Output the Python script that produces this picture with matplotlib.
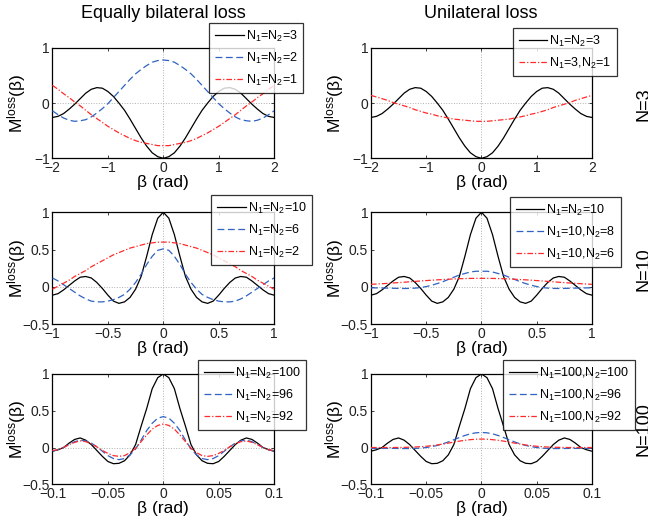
import numpy as np
import matplotlib
matplotlib.use("Agg")
import matplotlib.pyplot as plt

plt.rcParams['font.family'] = ['Liberation Sans', 'DejaVu Sans']
plt.rcParams['mathtext.fontset'] = 'custom'
plt.rcParams['mathtext.rm'] = 'Liberation Sans'
plt.rcParams['mathtext.it'] = 'Liberation Sans:italic'

# beta sampling grids (rad)
beta_n3 = np.linspace(-2, 2, 41)
beta_n10 = np.linspace(-1, 1, 41)
beta_n100 = np.linspace(-0.1, 0.1, 41)

# N=3 row
m_eq3 = [-0.26, -0.24, -0.19, -0.11, -0.02, 0.08, 0.18, 0.25, 0.28, 0.27, 0.21, 0.12, 0.00, -0.13, -0.29,
         -0.46, -0.63, -0.78, -0.90, -0.97, -1.00, -0.97, -0.90, -0.78, -0.63, -0.46, -0.29, -0.13, 0.00,
         0.12, 0.21, 0.27, 0.28, 0.25, 0.18, 0.08, -0.02, -0.11, -0.19, -0.24, -0.26]
m_eq2 = [-0.14, -0.21, -0.27, -0.31, -0.33, -0.32, -0.30, -0.25, -0.18, -0.10, -0.01, 0.10, 0.21, 0.32, 0.43,
         0.53, 0.61, 0.68, 0.74, 0.77, 0.78, 0.77, 0.74, 0.68, 0.61, 0.53, 0.43, 0.32, 0.21, 0.10, -0.01,
         -0.10, -0.18, -0.25, -0.30, -0.32, -0.33, -0.31, -0.27, -0.21, -0.14]
m_eq1 = [0.32, 0.25, 0.17, 0.10, 0.02, -0.05, -0.13, -0.21, -0.28, -0.35, -0.42, -0.48, -0.54, -0.59, -0.64,
         -0.68, -0.71, -0.73, -0.75, -0.77, -0.77, -0.77, -0.75, -0.73, -0.71, -0.68, -0.64, -0.59, -0.54,
         -0.48, -0.42, -0.35, -0.28, -0.21, -0.13, -0.05, 0.02, 0.10, 0.17, 0.25, 0.32]
m_uni3_1 = [0.14, 0.11, 0.08, 0.05, 0.01, -0.02, -0.05, -0.08, -0.12, -0.15, -0.18, -0.20, -0.23, -0.25, -0.27,
            -0.29, -0.30, -0.31, -0.32, -0.33, -0.33, -0.33, -0.32, -0.31, -0.30, -0.29, -0.27, -0.25, -0.23,
            -0.20, -0.18, -0.15, -0.12, -0.08, -0.05, -0.02, 0.01, 0.05, 0.08, 0.11, 0.14]

# N=10 row
m_eq10 = [-0.11, -0.09, -0.04, 0.02, 0.08, 0.13, 0.14, 0.12, 0.06, -0.02, -0.11, -0.19, -0.22, -0.20, -0.14,
          -0.03, 0.14, 0.41, 0.70, 0.92, 1.00, 0.92, 0.70, 0.41, 0.14, -0.03, -0.14, -0.20, -0.22, -0.19,
          -0.11, -0.02, 0.06, 0.12, 0.14, 0.13, 0.08, 0.02, -0.04, -0.09, -0.11]
m_eq6 = [0.12, 0.08, 0.03, -0.02, -0.07, -0.12, -0.16, -0.19, -0.20, -0.20, -0.19, -0.17, -0.14, -0.10, -0.03,
         0.06, 0.17, 0.30, 0.41, 0.49, 0.51, 0.49, 0.41, 0.30, 0.17, 0.06, -0.03, -0.10, -0.14, -0.17, -0.19,
         -0.20, -0.20, -0.19, -0.16, -0.12, -0.07, -0.02, 0.03, 0.08, 0.12]
m_eq2b = [-0.03, 0.01, 0.05, 0.09, 0.14, 0.18, 0.22, 0.27, 0.31, 0.35, 0.39, 0.43, 0.46, 0.49, 0.52, 0.54,
          0.56, 0.58, 0.59, 0.60, 0.60, 0.60, 0.59, 0.58, 0.56, 0.54, 0.52, 0.49, 0.46, 0.43, 0.39, 0.35,
          0.31, 0.27, 0.22, 0.18, 0.14, 0.09, 0.05, 0.01, -0.03]
m_uni10_8 = [-0.012, -0.013, -0.014, -0.016, -0.018, -0.020, -0.021, -0.020, -0.016, -0.008, 0.005, 0.023,
             0.045, 0.07, 0.10, 0.13, 0.16, 0.18, 0.20, 0.21, 0.21, 0.21, 0.20, 0.18, 0.16, 0.13, 0.10, 0.07,
             0.045, 0.023, 0.005, -0.008, -0.016, -0.020, -0.021, -0.020, -0.018, -0.016, -0.014, -0.013, -0.012]
m_uni10_6 = [0.035, 0.039, 0.043, 0.048, 0.053, 0.058, 0.063, 0.069, 0.074, 0.080, 0.085, 0.090, 0.095, 0.099,
             0.103, 0.107, 0.110, 0.112, 0.114, 0.115, 0.115, 0.115, 0.114, 0.112, 0.110, 0.107, 0.103, 0.099,
             0.095, 0.090, 0.085, 0.080, 0.074, 0.069, 0.063, 0.058, 0.053, 0.048, 0.043, 0.039, 0.035]

# N=100 row
m_eq100 = [-0.05, -0.03, 0.00, 0.06, 0.11, 0.13, 0.10, 0.04, -0.04, -0.12, -0.19, -0.22, -0.215, -0.18, -0.10,
           0.04, 0.29, 0.53, 0.80, 0.95, 1.00, 0.95, 0.80, 0.53, 0.29, 0.04, -0.10, -0.18, -0.215, -0.22,
           -0.19, -0.12, -0.04, 0.04, 0.10, 0.13, 0.11, 0.06, 0.00, -0.03, -0.05]
m_eq96 = [-0.05, -0.03, 0.00, 0.04, 0.08, 0.10, 0.09, 0.06, 0.01, -0.05, -0.11, -0.15, -0.165, -0.15, -0.10,
          -0.02, 0.10, 0.23, 0.33, 0.40, 0.42, 0.40, 0.33, 0.23, 0.10, -0.02, -0.10, -0.15, -0.165, -0.15,
          -0.11, -0.05, 0.01, 0.06, 0.09, 0.10, 0.08, 0.04, 0.00, -0.03, -0.05]
m_eq92 = [-0.04, -0.03, 0.00, 0.04, 0.07, 0.09, 0.08, 0.05, 0.01, -0.04, -0.08, -0.11, -0.12, -0.11, -0.07,
          -0.01, 0.08, 0.17, 0.25, 0.30, 0.32, 0.30, 0.25, 0.17, 0.08, -0.01, -0.07, -0.11, -0.12, -0.11,
          -0.08, -0.04, 0.01, 0.05, 0.08, 0.09, 0.07, 0.04, 0.00, -0.03, -0.04]
m_uni100_96 = [-0.012, -0.012, -0.012, -0.012, -0.012, -0.013, -0.014, -0.014, -0.012, -0.008, 0.000, 0.012,
               0.028, 0.050, 0.076, 0.106, 0.136, 0.164, 0.186, 0.200, 0.205, 0.200, 0.186, 0.164, 0.136,
               0.106, 0.076, 0.050, 0.028, 0.012, 0.000, -0.008, -0.012, -0.014, -0.014, -0.013, -0.012,
               -0.012, -0.012, -0.012, -0.012]
m_uni100_92 = [0.000, 0.000, 0.000, 0.000, 0.000, 0.001, 0.002, 0.004, 0.007, 0.011, 0.017, 0.025, 0.035,
               0.047, 0.060, 0.074, 0.087, 0.098, 0.107, 0.113, 0.115, 0.113, 0.107, 0.098, 0.087, 0.074,
               0.060, 0.047, 0.035, 0.025, 0.017, 0.011, 0.007, 0.004, 0.002, 0.001, 0.000, 0.000, 0.000,
               0.000, 0.000]

BLUE = '#2f62c2'
RED = '#ff2b2b'
styles = {'k': dict(color='k', ls='-'),
          'b': dict(color=BLUE, ls=(0, (5.5, 2.8))),
          'r': dict(color=RED, ls=(0, (4.5, 1.6, 1.0, 1.6)))}


def fmt(t):
    return ('%g' % t).replace('-', '\u2212')


def draw_panel(ax, beta, curves, labels, kinds, xticks, yticks, ylim, anchor, labx):
    ax.axhline(0, color='#b0b0b0', lw=0.7, ls=':', zorder=1)
    ax.axvline(0, color='#b0b0b0', lw=0.7, ls=':', zorder=1)
    for m, lab, k in zip(curves, labels, kinds):
        ax.plot(beta, m, lw=0.9, label=lab, zorder=3, **styles[k])
    ax.set_xlim(beta[0], beta[-1])
    ax.set_ylim(*ylim)
    ax.set_xticks(xticks)
    ax.set_yticks(yticks)
    ax.set_xticklabels([fmt(t) for t in xticks])
    ax.set_yticklabels([fmt(t) for t in yticks])
    ax.tick_params(direction='in', top=True, right=True, length=2.5, width=0.6,
                   labelsize=10, pad=2, colors='#222222')
    for s in ax.spines.values():
        s.set_linewidth(0.9)
    ax.set_xlabel('\u03b2 (rad)', fontsize=12.5, labelpad=0)
    ax.set_ylabel('M$^{\\mathrm{loss}}$(\u03b2)', fontsize=12.5)
    ax.yaxis.set_label_coords(labx, 0.5)
    leg = ax.legend(loc='upper right', bbox_to_anchor=anchor, bbox_transform=fig.transFigure,
                    fontsize=9, frameon=True, fancybox=False, borderaxespad=0,
                    handlelength=2.3, handletextpad=0.15, labelspacing=0.55, borderpad=0.45)
    leg.get_frame().set_edgecolor('k')
    leg.get_frame().set_linewidth(0.9)
    leg.set_zorder(10)


fig = plt.figure(figsize=(6.48, 5.26), dpi=100)
cols = [0.081, 0.5725]
widths = [0.342, 0.341]
rows = [(0.699, 0.210), (0.3835, 0.213), (0.0793, 0.2097)]
axes = [[fig.add_axes([cols[c], rows[r][0], widths[c], rows[r][1]]) for c in range(2)] for r in range(3)]
labx = [-0.112, -0.112]

draw_panel(axes[0][0], beta_n3, [m_eq3, m_eq2, m_eq1],
           ['N$_1$=N$_2$=3', 'N$_1$=N$_2$=2', 'N$_1$=N$_2$=1'], 'kbr',
           [-2, -1, 0, 1, 2], [-1, 0, 1], (-1, 1), (0.4676, 0.9563), labx[0])
draw_panel(axes[0][1], beta_n3, [m_eq3, m_uni3_1],
           ['N$_1$=N$_2$=3', 'N$_1$=3,N$_2$=1'], 'kr',
           [-2, -1, 0, 1, 2], [-1, 0, 1], (-1, 1), (0.952, 0.9468), labx[1])
draw_panel(axes[1][0], beta_n10, [m_eq10, m_eq6, m_eq2b],
           ['N$_1$=N$_2$=10', 'N$_1$=N$_2$=6', 'N$_1$=N$_2$=2'], 'kbr',
           [-1, -0.5, 0, 0.5, 1], [-0.5, 0, 0.5, 1], (-0.5, 1), (0.4815, 0.6293), labx[0])
draw_panel(axes[1][1], beta_n10, [m_eq10, m_uni10_8, m_uni10_6],
           ['N$_1$=N$_2$=10', 'N$_1$=10,N$_2$=8', 'N$_1$=10,N$_2$=6'], 'kbr',
           [-1, -0.5, 0, 0.5, 1], [-0.5, 0, 0.5, 1], (-0.5, 1), (0.9583, 0.6255), labx[1])
draw_panel(axes[2][0], beta_n100, [m_eq100, m_eq96, m_eq92],
           ['N$_1$=N$_2$=100', 'N$_1$=N$_2$=96', 'N$_1$=N$_2$=92'], 'kbr',
           [-0.1, -0.05, 0, 0.05, 0.1], [-0.5, 0, 0.5, 1], (-0.5, 1), (0.4722, 0.3156), labx[0])
draw_panel(axes[2][1], beta_n100, [m_eq100, m_uni100_96, m_uni100_92],
           ['N$_1$=100,N$_2$=100', 'N$_1$=100,N$_2$=96', 'N$_1$=100,N$_2$=92'], 'kbr',
           [-0.1, -0.05, 0, 0.05, 0.1], [-0.5, 0, 0.5, 1], (-0.5, 1), (0.98, 0.3156), labx[1])

fig.text(0.252, 1 - 13.5 / 526, 'Equally bilateral loss', ha='center', va='center', fontsize=13)
fig.text(0.7425, 1 - 13.5 / 526, 'Unilateral loss', ha='center', va='center', fontsize=13)
for lab, yc in [('N=3', 104), ('N=10', 269), ('N=100', 429)]:
    fig.text(0.981, 1 - yc / 526, lab, rotation=90, ha='left', va='center', fontsize=13)

fig.savefig('out.png', dpi=100)
